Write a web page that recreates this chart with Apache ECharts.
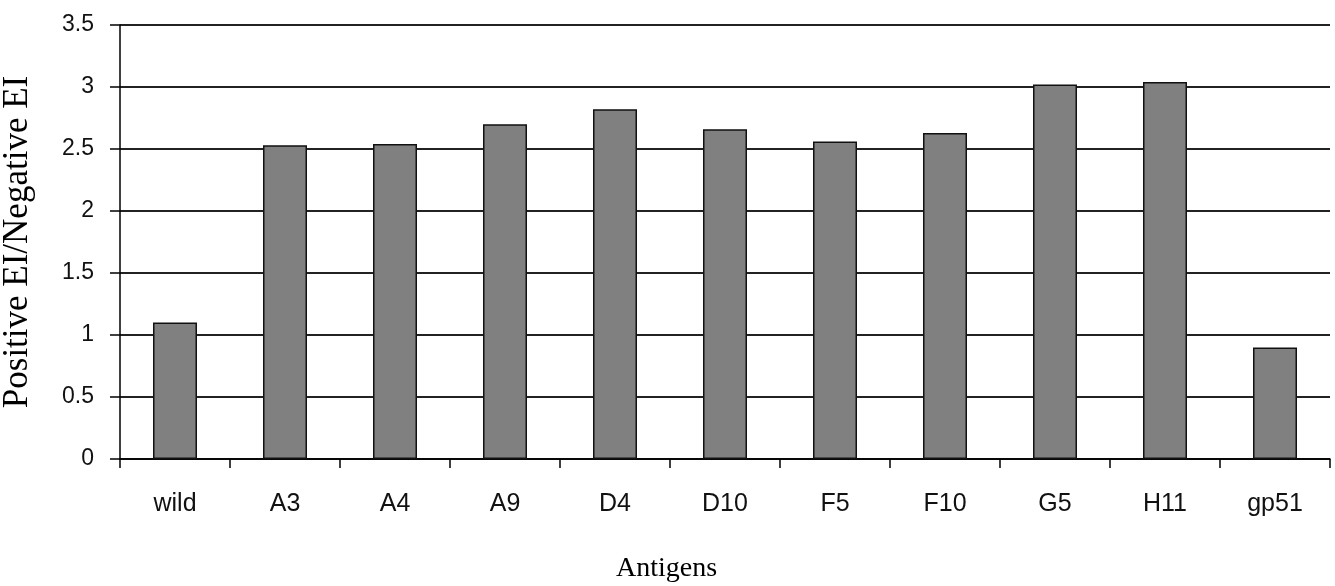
<!DOCTYPE html>
<html>
<head>
<meta charset="utf-8">
<script src="https://cdn.jsdelivr.net/npm/echarts@6/dist/echarts.min.js"></script>
<style>html,body{margin:0;padding:0;background:#fff;}#c{width:1335px;height:586px;}</style>
</head>
<body>
<div id="c"></div>
<script>
const categories = ['wild','A3','A4','A9','D4','D10','F5','F10','G5','H11','gp51'];
const values = [1.10, 2.53, 2.54, 2.70, 2.82, 2.66, 2.56, 2.63, 3.02, 3.04, 0.90];
const yTicks = {min: 0, max: 3.5, interval: 0.5};

const chart = echarts.init(document.getElementById('c'));
chart.setOption({
  animation: false,
  backgroundColor: '#fff',
  title: {
    text: 'Antigens', left: 611, top: 550,
    textStyle: {fontFamily: 'Liberation Serif', fontSize: 28, fontWeight: 'normal', color: '#000'}
  },
  grid: {left: 120, right: 5, top: 25, bottom: 127, outerBoundsMode: 'none', containLabel: false},
  xAxis: {
    type: 'category', data: categories,
    axisLine: {lineStyle: {color: '#000', width: 1.5}},
    axisTick: {show: true, length: 9, lineStyle: {color: '#000', width: 1.5}},
    axisLabel: {fontFamily: 'Liberation Sans', fontSize: 25, color: '#111', margin: 33}
  },
  yAxis: {
    type: 'value', min: yTicks.min, max: yTicks.max, interval: yTicks.interval,
    name: 'Positive EI/Negative EI', nameLocation: 'middle', nameGap: 85,
    nameTextStyle: {fontFamily: 'Liberation Serif', fontSize: 35, color: '#000'},
    axisLine: {show: true, lineStyle: {color: '#000', width: 1.5}},
    axisTick: {show: true, length: 10, lineStyle: {color: '#000', width: 1.5}},
    axisLabel: {fontFamily: 'Liberation Sans', fontSize: 23, color: '#111', margin: 26},
    splitLine: {show: true, lineStyle: {color: '#222', width: 2}}
  },
  series: [{
    type: 'bar', data: values, barWidth: '40%',
    itemStyle: {color: '#808080', borderColor: '#111', borderWidth: 1.5}
  }]
});
</script>
</body>
</html>
